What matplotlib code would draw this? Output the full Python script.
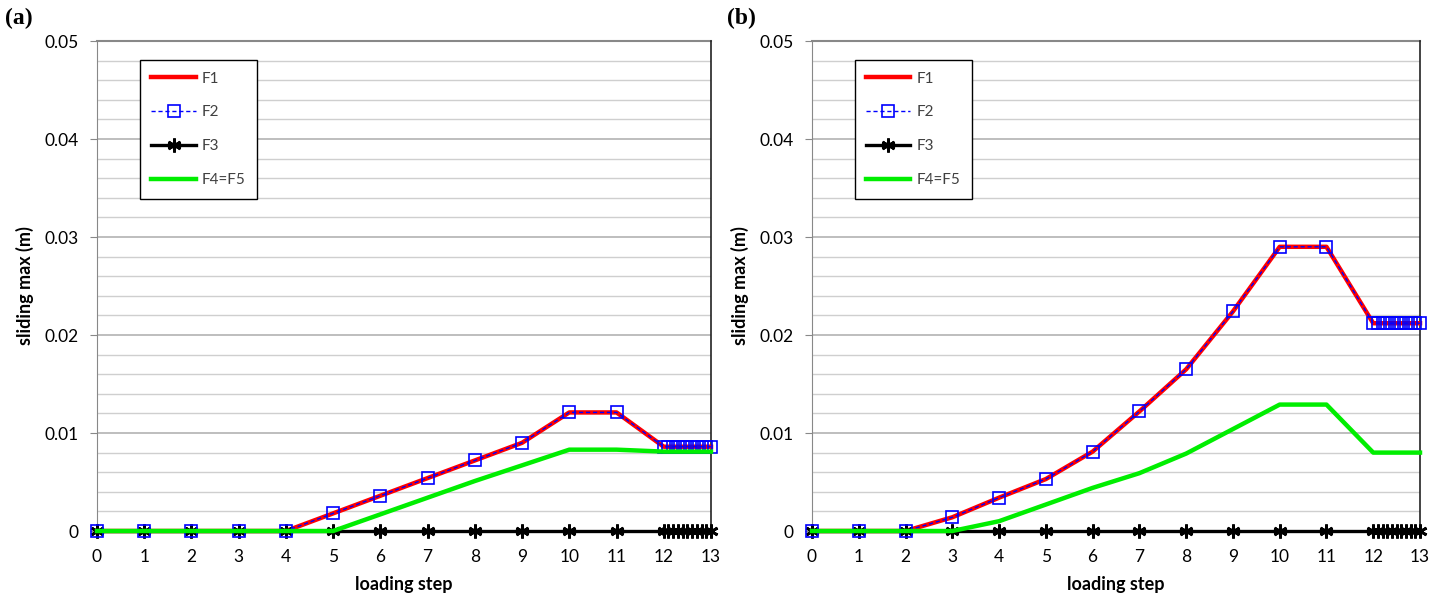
import matplotlib
matplotlib.use("Agg")
import matplotlib.pyplot as plt
from matplotlib.ticker import MultipleLocator

plt.rcParams['font.family'] = ['Lato', 'DejaVu Sans']

# loading steps (dense sub-steps between 12 and 13)
steps = [0, 1, 2, 3, 4, 5, 6, 7, 8, 9, 10, 11, 12,
         12.1, 12.2, 12.3, 12.4, 12.5, 12.6, 12.7, 12.8, 12.9, 13.0]

# panel (a)
a_F1 = [0, 0, 0, 0, 0, 0.0018, 0.0036, 0.0054, 0.0072, 0.0090, 0.0121, 0.0121, 0.0086,
        0.0086, 0.0086, 0.0086, 0.0086, 0.0086, 0.0086, 0.0086, 0.0086, 0.0086, 0.0086]
a_F2 = list(a_F1)
a_F3 = [0] * 23
a_F45 = [0, 0, 0, 0, 0, 0, 0.0017, 0.0034, 0.0051, 0.0067, 0.0083, 0.0083, 0.0081,
         0.0081, 0.0081, 0.0081, 0.0081, 0.0081, 0.0081, 0.0081, 0.0081, 0.0081, 0.0081]

# panel (b)
b_F1 = [0, 0, 0, 0.0014, 0.0034, 0.0053, 0.0081, 0.0122, 0.0165, 0.0224, 0.0290, 0.0290, 0.0212,
        0.0212, 0.0212, 0.0212, 0.0212, 0.0212, 0.0212, 0.0212, 0.0212, 0.0212, 0.0212]
b_F2 = list(b_F1)
b_F3 = [0] * 23
b_F45 = [0, 0, 0, 0, 0.0010, 0.0027, 0.0044, 0.0059, 0.0079, 0.0104, 0.0129, 0.0129, 0.0080,
         0.0080, 0.0080, 0.0080, 0.0080, 0.0080, 0.0080, 0.0080, 0.0080, 0.0080, 0.0080]

x_ticks = list(range(14))
y_ticks = [0, 0.01, 0.02, 0.03, 0.04, 0.05]
y_ticklabels = ['0', '0.01', '0.02', '0.03', '0.04', '0.05']
series_labels = ['F1', 'F2', 'F3', 'F4=F5']
panel_labels = ['(a)', '(b)']

fig = plt.figure(figsize=(14.48, 6.03), dpi=100)
ax_a = fig.add_axes([97/1448, 72/603, 614/1448, 490/603])
ax_b = fig.add_axes([812/1448, 72/603, 608/1448, 490/603])

asterisk = (6, 2, 0)

def draw(ax, F1, F2, F3, F45, label):
    ax.set_xlim(0, 13)
    ax.set_ylim(0, 0.05)
    ax.yaxis.set_minor_locator(MultipleLocator(0.002))
    ax.grid(which='major', axis='y', color='#b3b3b3', lw=1.2, zorder=0)
    ax.grid(which='minor', axis='y', color='#cfcfcf', lw=1.0, zorder=0)
    ax.set_axisbelow(True)
    l1, = ax.plot(steps, F1, color='#ff0000', lw=3.2, zorder=3, label=series_labels[0],
                  clip_on=False)
    l2, = ax.plot(steps, F2, color='#0000ff', lw=1.0, ls=(0, (3, 2)), marker='s', ms=8.5,
                  mfc='none', mec='#0000ff', mew=1.2, zorder=4, label=series_labels[1],
                  clip_on=False)
    l3, = ax.plot(steps, F3, color='black', lw=2.4, marker=asterisk, ms=10, mew=2.0,
                  mec='black', zorder=3.5, label=series_labels[2], clip_on=False)
    l4, = ax.plot(steps, F45, color='#00ee00', lw=3.2, zorder=5, label=series_labels[3],
                  clip_on=False)
    ax.set_xticks(x_ticks)
    ax.set_xticklabels([str(t) for t in x_ticks], fontsize=12.5)
    ax.set_yticks(y_ticks)
    ax.set_yticklabels(y_ticklabels, fontsize=12.5)
    ax.tick_params(axis='x', length=0, pad=13)
    ax.tick_params(axis='y', which='major', length=5, color='#888888', pad=8)
    ax.tick_params(axis='y', which='minor', length=0)
    ax.spines['top'].set_visible(False)
    ax.spines['bottom'].set_visible(False)
    ax.spines['left'].set_color('#888888')
    ax.spines['right'].set_color('#222222')
    ax.spines['right'].set_linewidth(1.2)
    ax.axhline(0.05, color='#888888', lw=1.5, zorder=1, clip_on=False)
    ax.set_xlabel('loading step', fontsize=13, fontweight='bold', labelpad=8)
    ax.set_ylabel('sliding max (m)', fontsize=13, fontweight='bold', labelpad=8)
    leg = ax.legend(handles=[l1, l2, l3, l4], loc='upper left',
                    bbox_to_anchor=(0.07, 0.961), borderaxespad=0, fontsize=11,
                    frameon=True, fancybox=False, edgecolor='black', framealpha=1,
                    handlelength=2.9, labelspacing=1.3, borderpad=0.75,
                    handletextpad=0.4)
    leg.get_frame().set_linewidth(1.0)
    for t in leg.get_texts():
        t.set_color('#404040')

draw(ax_a, a_F1, a_F2, a_F3, a_F45, panel_labels[0])
draw(ax_b, b_F1, b_F2, b_F3, b_F45, panel_labels[1])

fig.text(5/1448, 1 - 18/603, panel_labels[0], fontsize=17, fontweight='bold',
         family='Liberation Serif', va='center', ha='left')
fig.text(727/1448, 1 - 18/603, panel_labels[1], fontsize=17, fontweight='bold',
         family='Liberation Serif', va='center', ha='left')

fig.savefig('out.png', dpi=100)
